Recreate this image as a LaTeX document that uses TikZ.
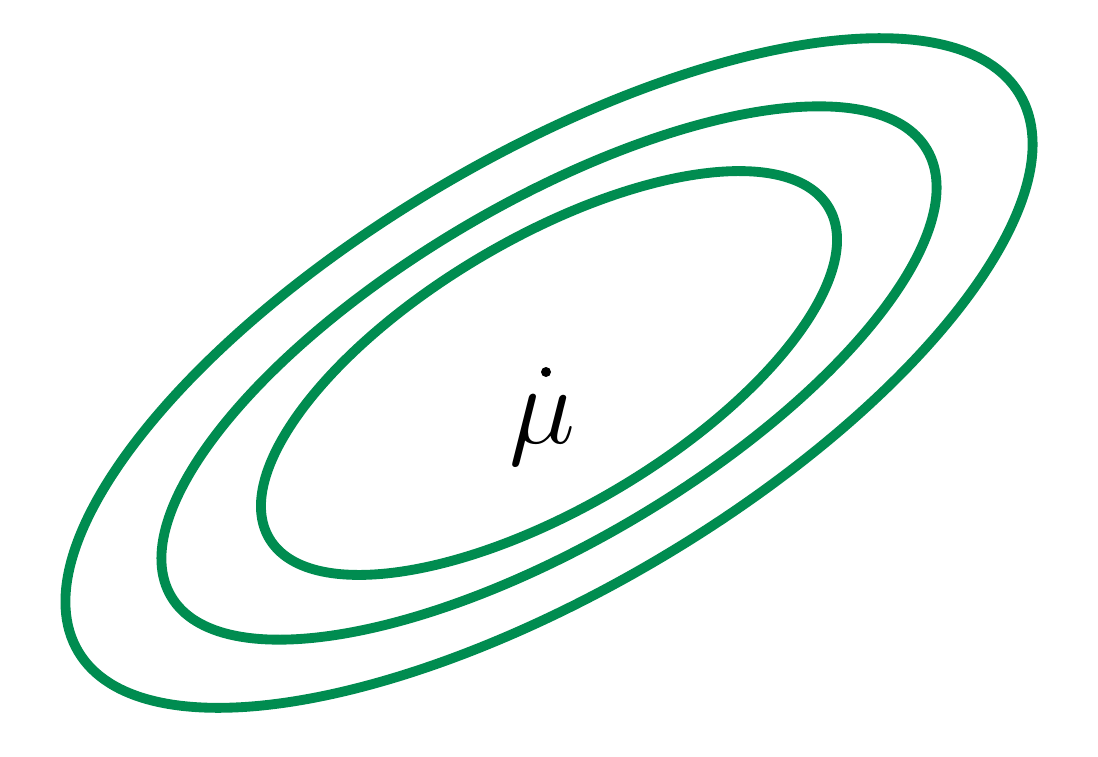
\documentclass[tikz,border=0pt]{standalone}
\usepackage{amsmath,amssymb}
\usepackage{tikz}
\usetikzlibrary{positioning}
\definecolor{zold}{RGB}{0,140,80}
\tikzset{
  pont/.style={circle,fill,inner sep=0pt,minimum size=0.1cm},
  szint/.style={draw=zold,line width=2.8pt},
}

\begin{document}
\begin{tikzpicture}
  \useasboundingbox (0,0) rectangle (10.98,7.56);
  \coordinate (kozep) at (5.49,3.83);
  % level sets around the mean
  \draw[szint,rotate around={30.6:(kozep)}] (kozep) ellipse [x radius=5.47,y radius=2.16];
  \draw[szint,rotate around={30.6:(kozep)}] (kozep) ellipse [x radius=4.39,y radius=1.69];
  \draw[szint,rotate around={30.6:(kozep)}] (kozep) ellipse [x radius=3.25,y radius=1.345];
  \node[pont] (mu) at (5.46,3.84) {};
  \node[below=0.5pt of mu,xshift=-1pt,font=\Huge,scale=1.28] (mulab) {$\mu$};
\end{tikzpicture}
\end{document}
